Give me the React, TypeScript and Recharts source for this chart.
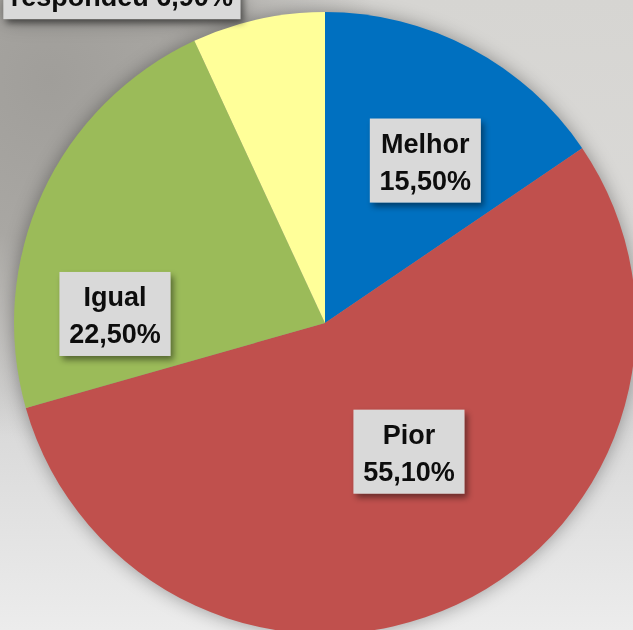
import { PieChart, Pie, Cell } from 'recharts'

// respostas
const categories = ['Melhor', 'Pior', 'Igual', 'Não respondeu']
const percentages = [15.5, 55.1, 22.5, 6.9]
const colors = ['#0070c0', '#c0504d', '#9bbb59', '#ffff99']

// where each label sits: [fraction of radius, angle shift from the slice middle]
const labelPlacement = [
  [0.614, -3.8],
  [0.494, 8.1],
  [0.676, 22.2],
  [1.29, 18.0],
]

const data = categories.map((name, i) => ({ name, value: percentages[i] }))

const RAD = Math.PI / 180
const fmt = (v: number) => v.toFixed(2).replace('.', ',') + '%'

// eslint-disable-next-line @typescript-eslint/no-explicit-any
function renderLabel(props: any) {
  const { cx, cy, midAngle, outerRadius, index, name, value } = props
  const [k, shift] = labelPlacement[index]
  const a = (midAngle + shift) * RAD
  const x = cx + outerRadius * k * Math.cos(a)
  const y = cy - outerRadius * k * Math.sin(a)

  const words = String(name).split(' ')
  const lines = words.length > 1
    ? [words[0], words.slice(1).join(' ') + ' ' + fmt(value)]
    : [name, fmt(value)]
  const w = words.length > 1 ? 237 : 111
  const h = 84

  return (
    <g key={'lbl' + index}>
      <defs>
        <filter id={'shadow' + index} x="-20%" y="-20%" width="140%" height="150%">
          <feDropShadow dx="3" dy="4" stdDeviation="3" floodColor="#000" floodOpacity="0.45" />
        </filter>
      </defs>
      <rect x={x - w / 2} y={y - h / 2} width={w} height={h} fill="#d9d9d9" filter={`url(#shadow${index})`} />
      <text
        x={x}
        textAnchor="middle"
        fontFamily="'Liberation Sans', Arial, sans-serif"
        fontWeight="bold"
        fontSize={27}
        fill="#0d0d0d"
      >
        <tspan x={x} y={y - 8}>{lines[0]}</tspan>
        <tspan x={x} y={y + 29}>{lines[1]}</tspan>
      </text>
    </g>
  )
}

export default function App() {
  return (
    <div
      style={{
        position: 'absolute',
        left: 0,
        top: 0,
        width: 633,
        height: 630,
        overflow: 'hidden',
        background:
          'radial-gradient(ellipse 330px 360px at 50px 80px, #a09e9a 0%, #a9a7a3 45%, rgba(175,173,169,0) 100%), ' +
          'linear-gradient(180deg, #d6d5d2 0%, #dbdad8 45%, #d6d6d6 62%, #ececec 100%)',
      }}
    >
      <div style={{ filter: 'drop-shadow(0 0 9px rgba(0,0,0,0.35))' }}>
        <PieChart width={633} height={630} margin={{ top: 0, right: 0, bottom: 0, left: 0 }}>
          <Pie
            data={data}
            dataKey="value"
            nameKey="name"
            cx={325}
            cy={323}
            outerRadius={311}
            startAngle={90}
            endAngle={-270}
            stroke="none"
            labelLine={false}
            label={renderLabel}
            isAnimationActive={false}
          >
            {data.map((d, i) => (
              <Cell key={d.name} fill={colors[i]} />
            ))}
          </Pie>
        </PieChart>
      </div>
    </div>
  )
}
